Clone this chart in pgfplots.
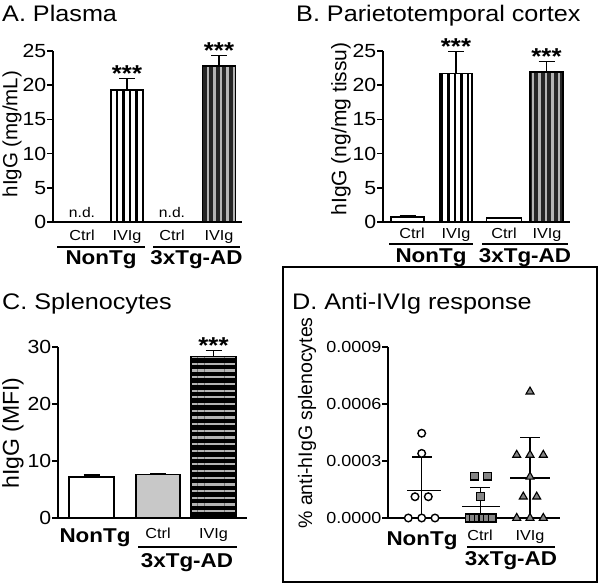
\documentclass[border=0pt]{standalone}
\usepackage{fontspec}
\setmainfont{Liberation Sans}[FakeStretch=1.12]
\newfontfamily\rotfont{Liberation Sans}
\usepackage{pgfplots}
\pgfplotsset{compat=1.18}
\usetikzlibrary{patterns.meta}
\newcommand\fs[1]{\fontsize{#1bp}{#1bp}\selectfont}
\definecolor{darkbar}{HTML}{262626}
\definecolor{lightstripe}{HTML}{B4B4B4}
\definecolor{ctrlgray}{HTML}{C8C8C8}
\definecolor{markgray}{HTML}{858585}
\pgfplotsset{
 panel/.style={scale only axis, anchor=south west,
   axis x line*=bottom, axis y line*=left,
   axis line style={line width=1.8bp, black, -},
   tick style={line width=1.5bp, black}, tick align=outside,
   major tick length=6bp, xtick=\empty, ymin=0, clip=false,
   /pgf/number format/assume math mode=true,
   yticklabel style={font=\fs{19}, inner sep=0.5bp}},
 mybar/.style={ybar, bar shift=0, draw=black, line width=1.5bp},
 errb/.style={error bars/.cd, y dir=plus, y explicit,
   error bar style={line width=1.4bp, black},
   error mark options={rotate=90, mark size=8bp, line width=1.4bp, black}},
}
\tikzset{
 vstripe/.style={pattern={Lines[angle=90,distance=6.5bp,line width=2.2bp]}},
 hstripe/.style={pattern={Lines[angle=0,distance=6.7bp,line width=2.2bp]}},
 lab/.style={anchor=base, inner sep=0, font=\fs{14.5}},
 grp/.style={anchor=base, inner sep=0, font=\fs{20}\bfseries},
 ast/.style={anchor=base, inner sep=0, font=\fs{23}\bfseries},
}
\begin{document}
\begin{tikzpicture}
\useasboundingbox (0,0) rectangle (600bp,585bp);
% titles
\node[anchor=base west, inner sep=0, font=\fs{22.5}] at (2bp,563bp) {A. Plasma};
\node[anchor=base west, inner sep=0, font=\fs{22.5}] at (296bp,563bp) {B. Parietotemporal cortex};
\node[anchor=base west, inner sep=0, font=\fs{22.5}] at (2bp,275bp) {C. Splenocytes};
\node[anchor=base west, inner sep=0, font=\fs{22.5}] at (292bp,275bp) {D. Anti-IVIg response};
% y labels
\node[rotate=90, font=\rotfont\fs{20.5}] at (12bp,451bp) {hIgG (mg/mL)};
\node[rotate=90, font=\rotfont\fs{21}] at (341bp,456bp) {hIgG (ng/mg tissu)};
\node[rotate=90, font=\rotfont\fs{23}] at (13bp,152bp) {hIgG (MFI)};
\node[rotate=90, font=\rotfont\fs{19.5}] at (307bp,162bp) {\% anti-hIgG splenocytes};
% D box
\draw[line width=1.2bp] (283bp,3bp) rectangle (597bp,318bp);

% ---------- A ----------
\begin{axis}[panel, at={(53bp,363bp)}, width=189bp, height=171bp,
  xmin=53, xmax=242, ymax=25, ytick={0,5,10,15,20,25}]
\addplot[mybar, bar width=33, fill=white, vstripe, pattern color=black, errb]
  coordinates {(127,19.3) +- (0,1.7)};
\addplot[mybar, bar width=33, preaction={fill=darkbar}, vstripe, pattern color=lightstripe, errb]
  coordinates {(219,22.8) +- (0,1.5)};
\node[anchor=base, inner sep=0, font=\fs{14}] at ([yshift=4bp]axis cs:82,0) {n.d.};
\node[anchor=base, inner sep=0, font=\fs{14}] at ([yshift=4bp]axis cs:172,0) {n.d.};
\node[ast] at ([yshift=-3bp]axis cs:127,21.0) {***};
\node[ast] at ([yshift=-3bp]axis cs:219,24.3) {***};
\node[lab] at ([yshift=-19bp]axis cs:82,0) {Ctrl};
\node[lab] at ([yshift=-19bp]axis cs:127,0) {IVIg};
\node[lab] at ([yshift=-19bp]axis cs:172,0) {Ctrl};
\node[lab] at ([yshift=-19bp]axis cs:219,0) {IVIg};
\draw[line width=1.4bp] ([yshift=-25bp]axis cs:57,0) -- ([yshift=-25bp]axis cs:145,0);
\draw[line width=1.4bp] ([yshift=-25bp]axis cs:153,0) -- ([yshift=-25bp]axis cs:240,0);
\node[grp] at ([yshift=-43bp]axis cs:101,0) {NonTg};
\node[grp] at ([yshift=-43bp]axis cs:196.5,0) {3xTg-AD};
\end{axis}

% ---------- B ----------
\begin{axis}[panel, at={(383bp,363bp)}, width=187bp, height=171bp,
  xmin=383, xmax=570, ymax=25, ytick={0,5,10,15,20,25}]
\addplot[mybar, bar width=33, fill=white, errb]
  coordinates {(407.5,0.7) +- (0,0.25)};
\addplot[mybar, bar width=32, fill=white, vstripe, pattern color=black, errb]
  coordinates {(456,21.7) +- (0,3.2)};
\addplot[mybar, bar width=35, fill=white, errb]
  coordinates {(504,0.6) +- (0,0.1)};
\addplot[mybar, bar width=33, preaction={fill=darkbar}, vstripe, pattern color=lightstripe, errb]
  coordinates {(546.5,21.9) +- (0,1.6)};
\node[ast] at ([yshift=-3bp]axis cs:456,24.9) {***};
\node[ast] at ([yshift=-3bp]axis cs:546.5,23.5) {***};
\node[lab] at ([yshift=-17bp]axis cs:412,0) {Ctrl};
\node[lab] at ([yshift=-17bp]axis cs:456,0) {IVIg};
\node[lab] at ([yshift=-17bp]axis cs:504,0) {Ctrl};
\node[lab] at ([yshift=-17bp]axis cs:547,0) {IVIg};
\draw[line width=1.4bp] ([yshift=-22bp]axis cs:389,0) -- ([yshift=-22bp]axis cs:473,0);
\draw[line width=1.4bp] ([yshift=-22bp]axis cs:482,0) -- ([yshift=-22bp]axis cs:568,0);
\node[grp] at ([yshift=-41bp]axis cs:431,0) {NonTg};
\node[grp] at ([yshift=-41bp]axis cs:525,0) {3xTg-AD};
\end{axis}

% ---------- C ----------
\begin{axis}[panel, at={(58bp,67bp)}, width=189bp, height=171bp,
  xmin=58, xmax=247, ymax=30, ytick={0,10,20,30}]
\addplot[mybar, bar width=45, fill=white, errb]
  coordinates {(91.5,7.2) +- (0,0.35)};
\addplot[mybar, bar width=44, fill=ctrlgray, errb]
  coordinates {(158,7.6) +- (0,0.25)};
\addplot[mybar, bar width=45, preaction={fill=black}, hstripe, pattern color=lightstripe, errb]
  coordinates {(213.5,28.3) +- (0,1.1)};
\node[ast] at ([yshift=-3bp]axis cs:213.5,29.4) {***};
\node[grp] at ([yshift=-24bp]axis cs:95,0) {NonTg};
\node[lab] at ([yshift=-20bp]axis cs:158,0) {Ctrl};
\node[lab] at ([yshift=-20bp]axis cs:213.5,0) {IVIg};
\draw[line width=1.4bp] ([yshift=-29bp]axis cs:138,0) -- ([yshift=-29bp]axis cs:237,0);
\node[grp] at ([yshift=-49bp]axis cs:187,0) {3xTg-AD};
\end{axis}

% ---------- D ----------
\begin{axis}[panel, at={(388bp,67bp)}, width=172bp, height=171bp,
  xmin=388, xmax=560, ymax=0.0009, scaled y ticks=false,
  ytick={0,0.0003,0.0006,0.0009},
  yticklabels={0.0000,0.0003,0.0006,0.0009},
  yticklabel style={font=\fs{16}}]
% SD whiskers and means
\addplot[black, line width=1.5bp, mark=none] coordinates {(421.7,0) (421.7,0.00032)};
\addplot[black, line width=1.5bp, mark=none] coordinates {(412,0.00032) (432,0.00032)};
\addplot[black, line width=1.5bp, mark=none] coordinates {(407,0.000144) (441,0.000144)};
\addplot[black, line width=1.5bp, mark=none] coordinates {(480.5,0) (480.5,0.00016)};
\addplot[black, line width=1.5bp, mark=none] coordinates {(470,0.00016) (490,0.00016)};
\addplot[black, line width=1.5bp, mark=none] coordinates {(462,0.00006) (500,0.00006)};
\addplot[black, line width=1.5bp, mark=none] coordinates {(530,0) (530,0.000425)};
\addplot[black, line width=1.5bp, mark=none] coordinates {(520,0.000425) (540,0.000425)};
\addplot[black, line width=1.5bp, mark=none] coordinates {(510,0.00021) (550,0.00021)};
% NonTg circles
\addplot[only marks, mark=*, mark size=3.8bp, mark options={fill=white, draw=black, line width=1.4bp}]
  coordinates {(421.7,0.000446) (421.7,0.00034) (415,0.000112) (428.3,0.000112)
               (408.3,0) (421.7,0) (435,0)};
% Ctrl squares
\addplot[only marks, mark=square*, mark size=3.9bp, mark options={fill=markgray, draw=black, line width=1.2bp}]
  coordinates {(469,0) (473.6,0) (478.2,0) (482.8,0) (487.4,0) (492,0)
               (474.3,0.000221) (487.3,0.000221) (480.7,0.000112)};
% IVIg triangles
\addplot[only marks, mark=triangle*, mark size=4.6bp, mark options={fill=markgray, draw=black, line width=1.1bp}]
  coordinates {(530,0.000665) (516.7,0.000332) (530,0.000332) (543.3,0.000332)
               (530,0.000217) (523.3,0.000112) (536.7,0.000112)
               (516.7,0) (530,0) (543.3,0)};
\node[grp] at ([yshift=-27bp]axis cs:422,0) {NonTg};
\node[lab] at ([yshift=-22bp]axis cs:480,0) {Ctrl};
\node[lab] at ([yshift=-22bp]axis cs:530,0) {IVIg};
\draw[line width=1.4bp] ([yshift=-29bp]axis cs:467,0) -- ([yshift=-29bp]axis cs:555,0);
\node[grp] at ([yshift=-47bp]axis cs:511,0) {3xTg-AD};
\end{axis}
\end{tikzpicture}
\end{document}
